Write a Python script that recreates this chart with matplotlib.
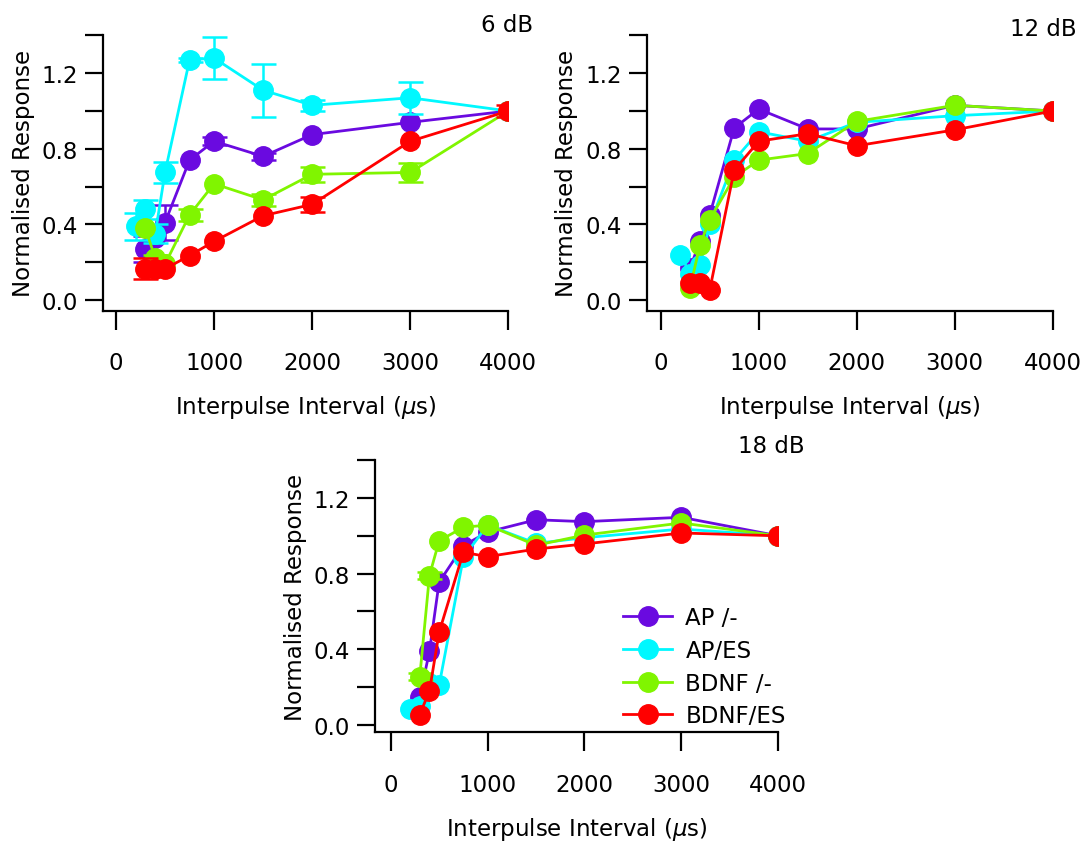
import numpy as np
import matplotlib
matplotlib.use('Agg')
import matplotlib.pyplot as plt
from matplotlib.ticker import MultipleLocator, FormatStrFormatter

# interpulse intervals (us)
x_ap = [300, 400, 500, 750, 1000, 1500, 2000, 3000, 4000]
x_es = [200, 300, 400, 500, 750, 1000, 1500, 2000, 3000, 4000]
x_bd = [300, 400, 500, 750, 1000, 1500, 2000, 3000, 4000]
x_bdes = [300, 400, 500, 750, 1000, 1500, 2000, 3000, 4000]

# 6 dB
ap_6 = [0.27, 0.33, 0.41, 0.74, 0.84, 0.76, 0.875, 0.94, 1.0]
ap_6_err = [0.07, 0, 0.095, 0, 0.02, 0.02, 0, 0, 0]
es_6 = [0.39, 0.48, 0.35, 0.675, 1.27, 1.28, 1.11, 1.03, 1.07, 1.0]
es_6_err = [0.07, 0.05, 0.05, 0.055, 0.01, 0.11, 0.14, 0.03, 0.085, 0]
bd_6 = [0.38, 0.22, 0.19, 0.45, 0.615, 0.53, 0.665, 0.675, 1.0]
bd_6_err = [0, 0.02, 0, 0.03, 0, 0.03, 0.04, 0.05, 0]
bdes_6 = [0.165, 0.165, 0.165, 0.235, 0.31, 0.446, 0.506, 0.84, 1.0]
bdes_6_err = [0.055, 0, 0, 0, 0, 0, 0.04, 0, 0.03]

# 12 dB
ap_12 = [0.17, 0.31, 0.45, 0.91, 1.01, 0.905, 0.905, 1.03, 1.0]
es_12 = [0.24, 0.14, 0.185, 0.40, 0.74, 0.89, 0.84, 0.94, 0.975, 1.0]
bd_12 = [0.065, 0.29, 0.425, 0.65, 0.74, 0.775, 0.945, 1.03, 1.0]
bdes_12 = [0.088, 0.088, 0.053, 0.687, 0.84, 0.88, 0.816, 0.90, 1.0]

# 18 dB
ap_18 = [0.146, 0.39, 0.755, 0.948, 1.02, 1.085, 1.075, 1.098, 1.0]
es_18 = [0.085, 0.10, 0.22, 0.21, 0.886, 1.057, 0.96, 0.99, 1.036, 1.0]
bd_18 = [0.255, 0.79, 0.974, 1.045, 1.057, 0.95, 1.004, 1.068, 1.0]
bd_18_err = [0.02, 0.02, 0, 0, 0, 0, 0, 0, 0]
bdes_18 = [0.055, 0.18, 0.49, 0.913, 0.89, 0.93, 0.957, 1.015, 1.0]

names = ['AP /-', 'AP/ES', 'BDNF /-', 'BDNF/ES']
colors = ['#6a0ae0', '#00f8ff', '#80f500', '#ff0000']
xs = [x_ap, x_es, x_bd, x_bdes]

panels = [
    dict(pos=[103/1088, 1-311.5/845, 405.3/1088, 275.3/845], xlim=(-132.5, 4000), ylim=(-0.0555, 1.401),
         ys=[ap_6, es_6, bd_6, bdes_6], errs=[ap_6_err, es_6_err, bd_6_err, bdes_6_err],
         title='6 dB', tpos=(533, 25)),
    dict(pos=[646.7/1088, 1-311.5/845, 406/1088, 275.3/845], xlim=(-143, 4000), ylim=(-0.0555, 1.401),
         ys=[ap_12, es_12, bd_12, bdes_12], errs=[None, None, None, None],
         title='12 dB', tpos=(1077, 30)),
    dict(pos=[375/1088, 1-733.3/845, 403.3/1088, 272.3/845], xlim=(-162, 4000), ylim=(-0.039, 1.401),
         ys=[ap_18, es_18, bd_18, bdes_18], errs=[None, None, bd_18_err, None],
         title='18 dB', tpos=(805, 447)),
]

fs = 16.5
fig = plt.figure(figsize=(10.88, 8.45), dpi=100)
for k, p in enumerate(panels):
    ax = fig.add_axes(p['pos'])
    for i in range(4):
        x = np.array(xs[i])
        y = np.array(p['ys'][i])
        ax.plot(x, y, '-o', color=colors[i], lw=2, ms=14, label=names[i], zorder=3+i)
        if p['errs'][i] is not None:
            e = np.array(p['errs'][i])
            m = e > 0
            ax.errorbar(x[m], y[m], yerr=e[m], fmt='none', ecolor=colors[i],
                        elinewidth=1.8, capsize=9, capthick=1.8, zorder=3+i)
    ax.set_xlim(p['xlim'])
    ax.set_ylim(p['ylim'])
    ax.spines['top'].set_visible(False)
    ax.spines['right'].set_visible(False)
    ax.spines['left'].set_linewidth(1.6)
    ax.spines['bottom'].set_linewidth(1.6)
    ax.set_xticks([0, 1000, 2000, 3000, 4000])
    ax.yaxis.set_major_locator(MultipleLocator(0.4))
    ax.yaxis.set_minor_locator(MultipleLocator(0.2))
    ax.yaxis.set_major_formatter(FormatStrFormatter('%.1f'))
    ax.tick_params(axis='x', which='both', length=14, width=1.6, pad=15, labelsize=fs)
    ax.tick_params(axis='y', which='both', length=13, width=1.6, pad=5, labelsize=fs)
    ax.set_xlabel('Interpulse Interval ($\\mu$s)', fontsize=fs, labelpad=14)
    ax.set_ylabel('Normalised Response', fontsize=fs, labelpad=5)
    fig.text(p['tpos'][0]/1088, 1-p['tpos'][1]/845, p['title'], fontsize=fs,
             ha='right', va='center')
    if k == 2:
        ax.legend(loc='upper left', bbox_to_anchor=(612/1088, 1-596/845),
                  bbox_transform=fig.transFigure, frameon=False, fontsize=fs,
                  borderpad=0, handlelength=2.1, handletextpad=0.6, labelspacing=0.42)

fig.savefig('out.png', dpi=100)
